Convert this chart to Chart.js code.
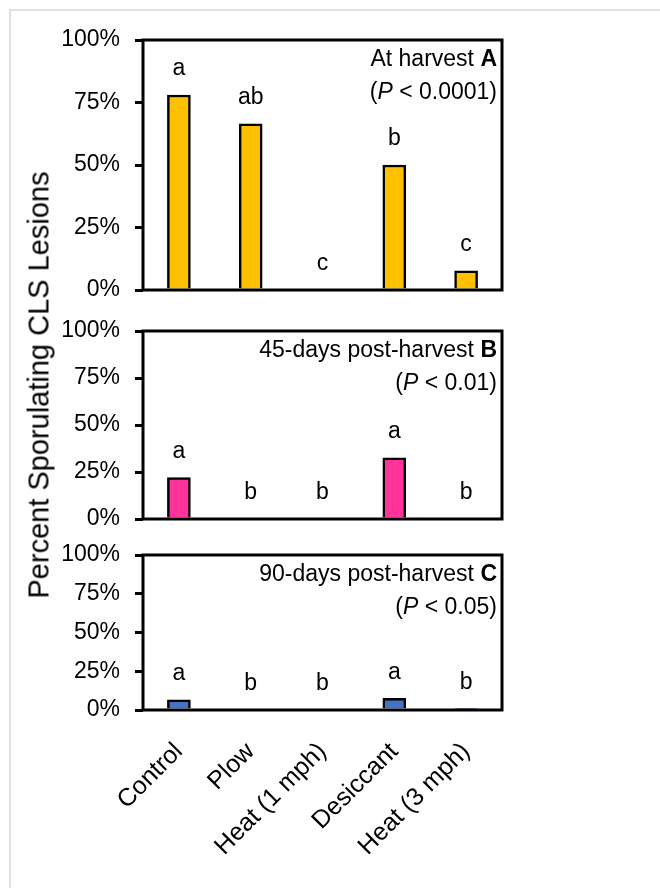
<!DOCTYPE html>
<html>
<head>
<meta charset="utf-8">
<script src="https://cdn.jsdelivr.net/npm/chart.js@4"></script>
<style>
body { margin:0; background:#fff; width:660px; height:888px; overflow:hidden; position:relative; font-family:"Liberation Sans", Arial, sans-serif; }
#frame { position:absolute; left:9px; top:9px; width:700px; height:900px; border-left:2px solid #e2e2e2; border-top:2px solid #e2e2e2; }
.panel { position:absolute; left:0; width:660px; }
#ytitle { position:absolute; left:39px; top:385px; transform:translate(-50%,-50%) rotate(-90deg); font-size:29px; white-space:nowrap; color:#000; }
</style>
</head>
<body>
<div id="frame"></div>
<div class="panel" style="top:0px"><canvas id="chartA" width="660" height="300"></canvas></div>
<div class="panel" style="top:290px"><canvas id="chartB" width="660" height="240"></canvas></div>
<div class="panel" style="top:530px"><canvas id="chartC" width="660" height="358"></canvas></div>
<div id="ytitle">Percent Sporulating CLS Lesions</div>
<script>
// data
const categories = ['Control', 'Plow', 'Heat (1 mph)', 'Desiccant', 'Heat (3 mph)'];
const atHarvest = [78, 66.5, 0, 50, 7.7];
const days45 = [22, 0, 0, 32.5, 0];
const days90 = [6.5, 0, 0, 7.5, 0.8];
const lettersA = ['a', 'ab', 'c', 'b', 'c'];
const lettersB = ['a', 'b', 'b', 'a', 'b'];
const lettersC = ['a', 'b', 'b', 'a', 'b'];
const yTicks = [0, 25, 50, 75, 100];

const FONT = '"Liberation Sans", Arial, sans-serif';

// box around plot, letters above bars and the panel note
function panelPlugin(letters, line1, bold, pRest) {
  return {
    id: 'panelExtras',
    afterDatasetsDraw(chart) {
      const ctx = chart.ctx;
      const area = chart.chartArea;
      const xs = chart.scales.x;
      const ys = chart.scales.y;
      const vals = chart.data.datasets[0].data;
      ctx.save();
      ctx.strokeStyle = '#000';
      ctx.lineWidth = 3;
      ctx.strokeRect(area.left, area.top, area.right - area.left, area.bottom - area.top);

      ctx.fillStyle = '#000';
      ctx.textBaseline = 'middle';
      ctx.textAlign = 'center';
      ctx.font = '23px ' + FONT;
      letters.forEach((l, i) => {
        ctx.fillText(l, xs.getPixelForValue(i), ys.getPixelForValue(vals[i]) - 26);
      });

      const x = area.right - 5;
      const y1 = area.top + 20;
      const y2 = area.top + 53;
      ctx.textAlign = 'right';
      ctx.font = 'bold 23px ' + FONT;
      const bw = ctx.measureText(bold).width;
      ctx.fillText(bold, x, y1);
      ctx.font = '23px ' + FONT;
      ctx.fillText(line1, x - bw, y1);
      const rw = ctx.measureText(pRest).width;
      ctx.fillText(pRest, x, y2);
      ctx.font = 'italic 23px ' + FONT;
      const pw = ctx.measureText('P').width;
      ctx.fillText('P', x - rw, y2);
      ctx.font = '23px ' + FONT;
      ctx.fillText('(', x - rw - pw, y2);
      ctx.restore();
    }
  };
}

function makePanel(id, values, color, letters, line1, bold, pRest, showX, padding) {
  return new Chart(document.getElementById(id), {
    type: 'bar',
    data: {
      labels: categories,
      datasets: [{
        data: values,
        backgroundColor: color,
        borderColor: '#000',
        borderWidth: 2.5,
        barThickness: 23
      }]
    },
    options: {
      responsive: false,
      animation: false,
      layout: { padding: padding },
      plugins: { legend: { display: false }, tooltip: { enabled: false } },
      scales: {
        x: {
          display: showX,
          grid: { display: false, drawTicks: false },
          border: { display: false },
          ticks: {
            maxRotation: 45, minRotation: 45,
            color: '#000', padding: 27,
            font: { family: FONT, size: 25 }
          },
          afterFit(scale) { scale.height = showX ? 178 : 0; }
        },
        y: {
          min: 0, max: 100,
          afterBuildTicks(scale) { scale.ticks = yTicks.map(v => ({ value: v })); },
          afterFit(scale) {
            scale.width = 143;
            // plot box is placed by layout padding alone
            scale.paddingTop = 0;
            scale.paddingBottom = 0;
          },
          grid: { drawOnChartArea: false, drawTicks: true, tickLength: 8, color: '#000', lineWidth: 3 },
          border: { display: false },
          ticks: {
            color: '#000', padding: 15,
            font: { family: FONT, size: 23 },
            callback: v => v + '%'
          }
        }
      }
    },
    plugins: [panelPlugin(letters, line1, bold, pRest)]
  });
}

makePanel('chartA', atHarvest, '#FFC000', lettersA, 'At harvest ', 'A', ' < 0.0001)', false,
  { top: 40, bottom: 10, left: 0, right: 158 });
makePanel('chartB', days45, '#FF3399', lettersB, '45-days post-harvest ', 'B', ' < 0.01)', false,
  { top: 41, bottom: 11, left: 0, right: 158 });
makePanel('chartC', days90, '#4472C4', lettersC, '90-days post-harvest ', 'C', ' < 0.05)', true,
  { top: 25, bottom: 0, left: 0, right: 158 });
</script>
</body>
</html>
